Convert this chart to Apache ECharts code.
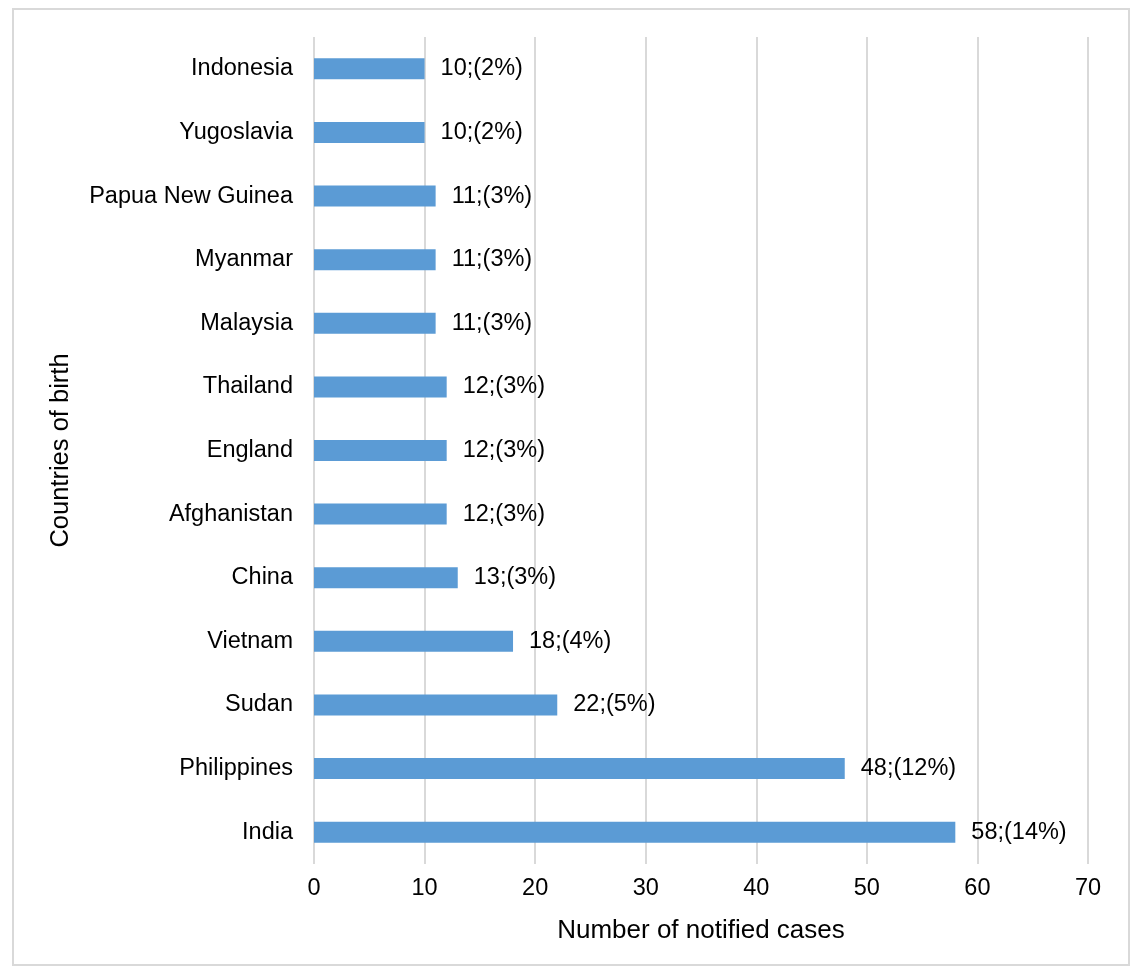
<!DOCTYPE html>
<html>
<head>
<meta charset="utf-8">
<script src="https://cdn.jsdelivr.net/npm/echarts@6/dist/echarts.min.js"></script>
<style>
  html, body { margin: 0; padding: 0; background: #fff; }
  #frame { position: absolute; left: 12px; top: 8px; width: 1118px; height: 958px; border: 2px solid #d9d9d9; box-sizing: border-box; }
  #chart { position: absolute; left: 0; top: 0; width: 1134px; height: 970px; }
</style>
</head>
<body>
<div id="frame"></div>
<div id="chart"></div>
<script>
// Countries of birth, listed bottom to top
const countries = ['India', 'Philippines', 'Sudan', 'Vietnam', 'China', 'Afghanistan', 'England',
  'Thailand', 'Malaysia', 'Myanmar', 'Papua New Guinea', 'Yugoslavia', 'Indonesia'];
const cases = [58, 48, 22, 18, 13, 12, 12, 12, 11, 11, 11, 10, 10];
const percents = [14, 12, 5, 4, 3, 3, 3, 3, 3, 3, 3, 2, 2];

const font = 'Liberation Sans, Arial, Helvetica, sans-serif';
const chart = echarts.init(document.getElementById('chart'), null, { renderer: 'canvas' });

chart.setOption({
  animation: false,
  backgroundColor: 'transparent',
  grid: { left: 314, right: 46, top: 37, bottom: 106, containLabel: false },
  xAxis: {
    type: 'value',
    min: 0, max: 70, interval: 10,
    name: 'Number of notified cases',
    nameLocation: 'middle',
    nameGap: 54,
    nameTextStyle: { fontFamily: font, fontSize: 26, color: '#000' },
    axisLine: { show: false },
    axisTick: { show: false },
    axisLabel: { fontFamily: font, fontSize: 23.5, color: '#000', margin: 13 },
    splitLine: { show: true, lineStyle: { color: '#d9d9d9', width: 2 } }
  },
  yAxis: {
    type: 'category',
    data: countries,
    name: 'Countries of birth',
    nameLocation: 'middle',
    nameGap: 240,
    nameRotate: 90,
    nameTextStyle: { fontFamily: font, fontSize: 25.5, color: '#000' },
    axisLine: { show: false },
    axisTick: { show: false },
    axisLabel: { fontFamily: font, fontSize: 23.5, color: '#000', margin: 21 },
    splitLine: { show: false }
  },
  series: [{
    type: 'bar',
    data: cases,
    barWidth: 21,
    itemStyle: { color: '#5b9bd5' },
    label: {
      show: true,
      position: 'right',
      distance: 16,
      fontFamily: font,
      fontSize: 23.5,
      color: '#000',
      formatter: p => p.value + ';(' + percents[p.dataIndex] + '%)'
    }
  }]
});
</script>
</body>
</html>
